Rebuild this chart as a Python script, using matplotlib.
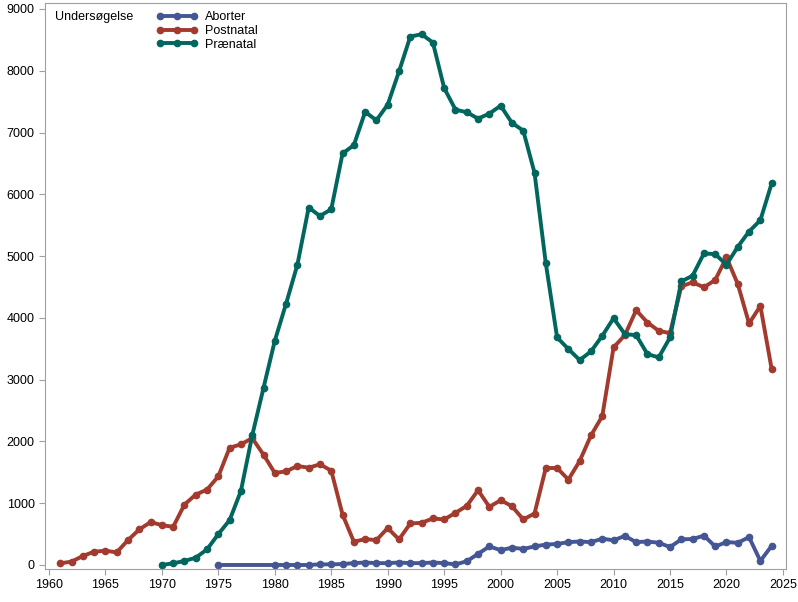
import matplotlib.pyplot as plt

plt.rcParams["font.family"] = ["Liberation Sans", "DejaVu Sans"]

ABORTER_YEARS = [1975] + list(range(1980, 2025))
ABORTER = [0, 0, 0, 0, 0, 10, 10, 15, 30, 40, 30, 30, 40, 30, 30, 40, 30, 10,
           60, 180, 300, 240, 280, 260, 300, 330, 340, 370, 380, 370, 425, 400,
           470, 370, 380, 360, 290, 415, 420, 475, 300, 370, 360, 450, 65, 310]

POSTNATAL_YEARS = list(range(1961, 2025))
POSTNATAL = [27, 54, 145, 215, 231, 204, 403, 575, 694, 645, 618, 978, 1140,
             1220, 1435, 1898, 1952, 2054, 1785, 1489, 1516, 1602, 1575, 1629,
             1527, 817, 376, 419, 403, 597, 414, 672, 683, 753, 737, 844, 957,
             1210, 941, 1048, 952, 737, 833, 1570, 1570, 1382, 1683, 2097, 2409,
             3522, 3720, 4124, 3925, 3790, 3753, 4511, 4575, 4495, 4613, 4980,
             4548, 3909, 4194, 3172]

PRAENATAL_YEARS = list(range(1970, 2025))
PRAENATAL = [0, 27, 65, 118, 253, 500, 726, 1199, 2097, 2866, 3629, 4231, 4860,
             5785, 5650, 5758, 6661, 6796, 7333, 7199, 7452, 7989, 8554, 8591,
             8457, 7720, 7371, 7328, 7226, 7306, 7435, 7156, 7032, 6349, 4882,
             3683, 3495, 3317, 3457, 3710, 3995, 3737, 3720, 3414, 3360, 3683,
             4590, 4683, 5043, 5032, 4860, 5151, 5398, 5581, 6177]

SERIES = [
    ("Aborter", ABORTER_YEARS, ABORTER, "#445694"),
    ("Postnatal", POSTNATAL_YEARS, POSTNATAL, "#A23A2E"),
    ("Prænatal", PRAENATAL_YEARS, PRAENATAL, "#01665E"),
]

fig = plt.figure(figsize=(7.98, 6.02), dpi=100)
ax = fig.add_axes([45 / 798, 33 / 602, 741 / 798, 566 / 602])

for name, x, y, col in SERIES:
    ax.plot(x, y, color=col, lw=2.8, marker="o", ms=4.5, label=name)

ax.set_xlim(1959.65, 2025.27)
ax.set_ylim(-65, 9097)
ax.set_xticks(range(1960, 2026, 5))
ax.set_yticks(range(0, 9001, 1000))
for s in ax.spines.values():
    s.set_color("#a0a0a0")
ax.tick_params(colors="#a0a0a0", labelcolor="black", labelsize=9, length=4)

leg = ax.legend(loc="upper left", bbox_to_anchor=(156 / 798, 1 - 11 / 602),
                bbox_transform=fig.transFigure, frameon=False, fontsize=9,
                numpoints=3, handlelength=3.3, handletextpad=0.6,
                labelspacing=0.15, borderaxespad=0, borderpad=0)
fig.text(55 / 798, 1 - 17 / 602, "Undersøgelse", fontsize=9,
         ha="left", va="center")

fig.savefig("out.png", dpi=100, facecolor="white")
